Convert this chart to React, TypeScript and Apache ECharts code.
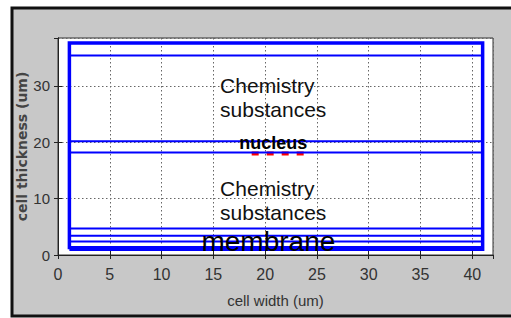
import React, { useEffect, useRef } from "react";
import * as echarts from "echarts";

// Axis ranges / ticks
const xMin = 0;
const xMax = 42;
const xInterval = 5;
const yMin = 0;
const yMax = 38.5;
const yInterval = 10;

// Cell outline (um)
const cellLeft = 1.1;
const cellRight = 41;
const cellBottom = 1.0;
const cellTop = 37.6;

// Inner horizontal layer lines (um)
const layerLines = [35.4, 20.2, 18.2, 4.7, 3.4, 2.4, 1.4];

// Nucleus red dashed marker
const nucleusStart = 18.7;
const nucleusEnd = 23.8;
const nucleusLevel = 18.0;

// Text annotations
const annotationTexts = ["Chemistry\nsubstances", "nucleus", "Chemistry\nsubstances", "membrane"];
const annotationX = [15.7, 17.55, 15.7, 13.9];
const annotationY = [27.9, 19.76, 9.6, 2.33];

const TICK_FONT = '"Liberation Sans", Arial, sans-serif';

export default function App() {
  const ref = useRef<HTMLDivElement>(null);

  useEffect(() => {
    if (!ref.current) return;
    const chart = echarts.init(ref.current, undefined, { renderer: "svg" });

    const lineSeries = layerLines.map((y) => ({
      type: "line",
      data: [
        [cellLeft, y],
        [cellRight, y],
      ],
      showSymbol: false,
      symbol: "none",
      lineStyle: { color: "#0000ff", width: 2 },
      z: 3,
      silent: true,
    }));

    const annotationStyles = [
      { fontSize: 21, lineHeight: 24, color: "#111", fontWeight: "normal" },
      { fontSize: 18, lineHeight: 20, color: "#000", fontWeight: "bold" },
      { fontSize: 21, lineHeight: 24, color: "#111", fontWeight: "normal" },
      { fontSize: 28, lineHeight: 30, color: "#000", fontWeight: "normal" },
    ];

    const option: any = {
      animation: false,
      backgroundColor: "#ffffff",
      graphic: [
        {
          type: "rect",
          z: -10,
          shape: { x: 12, y: 8, width: 520, height: 308 },
          style: { fill: "#c8c8c8", stroke: "#111", lineWidth: 3 },
          silent: true,
        },
      ],
      grid: {
        left: 58,
        top: 38,
        right: 18,
        bottom: 63,
        show: true,
        backgroundColor: "#ffffff",
        borderColor: "#333",
        borderWidth: 1,
      },
      xAxis: [
        {
          type: "value",
          min: xMin,
          max: xMax,
          interval: xInterval,
          name: "cell width (um)",
          nameLocation: "middle",
          nameGap: 38,
          nameMoveOverlap: false,
          nameTextStyle: { fontFamily: TICK_FONT, fontSize: 15, color: "#333" },
          axisLine: { show: true, lineStyle: { color: "#222", width: 1 } },
          axisTick: { show: true, inside: true, length: 4, lineStyle: { color: "#222" } },
          axisLabel: {
            show: true,
            margin: 11,
            showMaxLabel: false,
            fontFamily: TICK_FONT,
            fontSize: 16,
            color: "#333",
          },
          splitLine: { show: true, lineStyle: { color: "#666", type: [1.5, 2.5], width: 1 } },
        },
        {
          type: "value",
          position: "top",
          min: xMin,
          max: xMax,
          interval: xInterval,
          axisLine: { show: true, lineStyle: { color: "#222" } },
          axisTick: { show: true, inside: true, length: 4, lineStyle: { color: "#222" } },
          axisLabel: { show: false },
          splitLine: { show: false },
        },
      ],
      yAxis: [
        {
          type: "value",
          min: yMin,
          max: yMax,
          interval: yInterval,
          name: "cell thickness (um)",
          nameLocation: "middle",
          nameGap: 29,
          nameMoveOverlap: false,
          nameTextStyle: {
            fontFamily: '"DejaVu Sans", sans-serif',
            fontWeight: "bold",
            fontSize: 14,
            color: "#444",
          },
          axisLine: { show: true, lineStyle: { color: "#222", width: 1 } },
          axisTick: { show: true, inside: true, length: 4, lineStyle: { color: "#222" } },
          axisLabel: {
            show: true,
            margin: 8,
            showMaxLabel: false,
            fontFamily: TICK_FONT,
            fontSize: 15,
            color: "#333",
          },
          splitLine: { show: true, lineStyle: { color: "#666", type: [1.5, 2.5], width: 1 } },
        },
        {
          type: "value",
          position: "right",
          min: yMin,
          max: yMax,
          interval: yInterval,
          axisLine: { show: true, lineStyle: { color: "#222" } },
          axisTick: { show: true, inside: true, length: 4, lineStyle: { color: "#222" } },
          axisLabel: { show: false },
          splitLine: { show: false },
        },
      ],
      series: [
        {
          type: "line",
          data: [
            [nucleusStart, nucleusLevel],
            [nucleusEnd, nucleusLevel],
          ],
          symbol: "none",
          lineStyle: { color: "#ff0000", width: 4, type: [7, 8] },
          z: 2,
          silent: true,
        },
        ...lineSeries,
        {
          type: "line",
          data: [
            [cellLeft, cellBottom],
            [cellRight, cellBottom],
            [cellRight, cellTop],
            [cellLeft, cellTop],
            [cellLeft, cellBottom],
          ],
          symbol: "none",
          lineStyle: { color: "#0000ff", width: 3.5, join: "miter" },
          z: 3,
          silent: true,
        },
        {
          type: "scatter",
          symbolSize: 1,
          itemStyle: { color: "rgba(0,0,0,0)", opacity: 1 },
          z: 5,
          silent: true,
          data: annotationTexts.map((t, i) => ({
            name: t,
            value: [annotationX[i], annotationY[i]],
            label: {
              show: true,
              formatter: "{b}",
              position: [0, 0],
              align: "left",
              verticalAlign: "middle",
              opacity: 1,
              fontFamily: '"Liberation Sans", Arial, sans-serif',
              ...annotationStyles[i],
            },
          })),
        },
      ],
    };

    chart.setOption(option);
    return () => chart.dispose();
  }, []);

  return (
    <div
      ref={ref}
      style={{ position: "fixed", left: 0, top: 0, width: 511, height: 318 }}
    />
  );
}
